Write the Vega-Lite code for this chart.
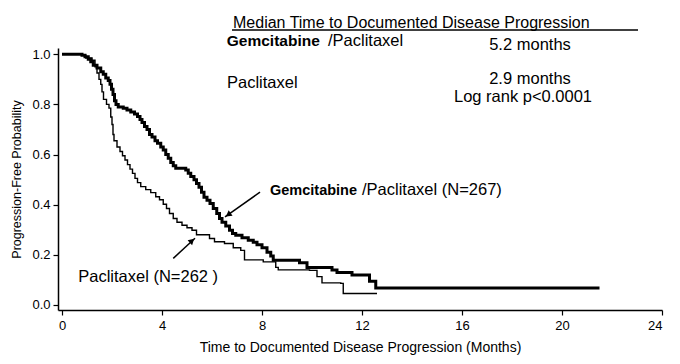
{
  "$schema": "https://vega.github.io/schema/vega-lite/v6.json",
  "width": 604,
  "height": 262,
  "autosize": "none",
  "padding": {"left": 58, "top": 48, "right": 18, "bottom": 54},
  "background": "white",
  "config": {
    "view": {"stroke": null},
    "font": "Liberation Sans",
    "axis": {"grid": false, "domainColor": "black", "tickColor": "black", "labelColor": "black", "titleColor": "black", "labelFont": "Liberation Sans", "titleFont": "Liberation Sans", "titleFontWeight": "normal", "domainWidth": 1.5, "tickWidth": 1.2}
  },
  "datasets": {
    "curves": [
      {"series": "Gemcitabine/Paclitaxel", "month": 0, "prob": 1.0},
      {"series": "Gemcitabine/Paclitaxel", "month": 0.8, "prob": 0.996},
      {"series": "Gemcitabine/Paclitaxel", "month": 0.92, "prob": 0.99},
      {"series": "Gemcitabine/Paclitaxel", "month": 1.05, "prob": 0.98},
      {"series": "Gemcitabine/Paclitaxel", "month": 1.15, "prob": 0.97},
      {"series": "Gemcitabine/Paclitaxel", "month": 1.25, "prob": 0.956},
      {"series": "Gemcitabine/Paclitaxel", "month": 1.4, "prob": 0.945},
      {"series": "Gemcitabine/Paclitaxel", "month": 1.55, "prob": 0.93},
      {"series": "Gemcitabine/Paclitaxel", "month": 1.65, "prob": 0.92},
      {"series": "Gemcitabine/Paclitaxel", "month": 1.75, "prob": 0.905},
      {"series": "Gemcitabine/Paclitaxel", "month": 1.85, "prob": 0.895},
      {"series": "Gemcitabine/Paclitaxel", "month": 1.92, "prob": 0.88},
      {"series": "Gemcitabine/Paclitaxel", "month": 1.98, "prob": 0.86},
      {"series": "Gemcitabine/Paclitaxel", "month": 2.04, "prob": 0.84},
      {"series": "Gemcitabine/Paclitaxel", "month": 2.1, "prob": 0.815},
      {"series": "Gemcitabine/Paclitaxel", "month": 2.16, "prob": 0.8},
      {"series": "Gemcitabine/Paclitaxel", "month": 2.25, "prob": 0.79},
      {"series": "Gemcitabine/Paclitaxel", "month": 2.45, "prob": 0.785},
      {"series": "Gemcitabine/Paclitaxel", "month": 2.6, "prob": 0.778},
      {"series": "Gemcitabine/Paclitaxel", "month": 2.75, "prob": 0.77},
      {"series": "Gemcitabine/Paclitaxel", "month": 2.9, "prob": 0.762},
      {"series": "Gemcitabine/Paclitaxel", "month": 3.02, "prob": 0.752},
      {"series": "Gemcitabine/Paclitaxel", "month": 3.12, "prob": 0.74},
      {"series": "Gemcitabine/Paclitaxel", "month": 3.2, "prob": 0.728},
      {"series": "Gemcitabine/Paclitaxel", "month": 3.3, "prob": 0.712},
      {"series": "Gemcitabine/Paclitaxel", "month": 3.4, "prob": 0.7},
      {"series": "Gemcitabine/Paclitaxel", "month": 3.5, "prob": 0.68},
      {"series": "Gemcitabine/Paclitaxel", "month": 3.6, "prob": 0.67},
      {"series": "Gemcitabine/Paclitaxel", "month": 3.72, "prob": 0.655},
      {"series": "Gemcitabine/Paclitaxel", "month": 3.82, "prob": 0.645},
      {"series": "Gemcitabine/Paclitaxel", "month": 3.95, "prob": 0.63},
      {"series": "Gemcitabine/Paclitaxel", "month": 4.05, "prob": 0.618},
      {"series": "Gemcitabine/Paclitaxel", "month": 4.15, "prob": 0.6},
      {"series": "Gemcitabine/Paclitaxel", "month": 4.25, "prob": 0.585},
      {"series": "Gemcitabine/Paclitaxel", "month": 4.35, "prob": 0.568},
      {"series": "Gemcitabine/Paclitaxel", "month": 4.45, "prob": 0.555},
      {"series": "Gemcitabine/Paclitaxel", "month": 4.55, "prob": 0.545},
      {"series": "Gemcitabine/Paclitaxel", "month": 4.95, "prob": 0.538},
      {"series": "Gemcitabine/Paclitaxel", "month": 5.05, "prob": 0.525},
      {"series": "Gemcitabine/Paclitaxel", "month": 5.15, "prob": 0.512},
      {"series": "Gemcitabine/Paclitaxel", "month": 5.28, "prob": 0.5},
      {"series": "Gemcitabine/Paclitaxel", "month": 5.38, "prob": 0.485},
      {"series": "Gemcitabine/Paclitaxel", "month": 5.48, "prob": 0.47},
      {"series": "Gemcitabine/Paclitaxel", "month": 5.58, "prob": 0.45},
      {"series": "Gemcitabine/Paclitaxel", "month": 5.68, "prob": 0.43},
      {"series": "Gemcitabine/Paclitaxel", "month": 5.8, "prob": 0.418},
      {"series": "Gemcitabine/Paclitaxel", "month": 5.92, "prob": 0.405},
      {"series": "Gemcitabine/Paclitaxel", "month": 6.05, "prob": 0.385},
      {"series": "Gemcitabine/Paclitaxel", "month": 6.19, "prob": 0.365},
      {"series": "Gemcitabine/Paclitaxel", "month": 6.3, "prob": 0.345},
      {"series": "Gemcitabine/Paclitaxel", "month": 6.4, "prob": 0.33},
      {"series": "Gemcitabine/Paclitaxel", "month": 6.55, "prob": 0.315},
      {"series": "Gemcitabine/Paclitaxel", "month": 6.7, "prob": 0.298},
      {"series": "Gemcitabine/Paclitaxel", "month": 6.82, "prob": 0.285},
      {"series": "Gemcitabine/Paclitaxel", "month": 6.95, "prob": 0.278},
      {"series": "Gemcitabine/Paclitaxel", "month": 7.2, "prob": 0.268},
      {"series": "Gemcitabine/Paclitaxel", "month": 7.45, "prob": 0.258},
      {"series": "Gemcitabine/Paclitaxel", "month": 7.65, "prob": 0.25},
      {"series": "Gemcitabine/Paclitaxel", "month": 7.8, "prob": 0.24},
      {"series": "Gemcitabine/Paclitaxel", "month": 8.0, "prob": 0.228},
      {"series": "Gemcitabine/Paclitaxel", "month": 8.2, "prob": 0.21},
      {"series": "Gemcitabine/Paclitaxel", "month": 8.35, "prob": 0.195},
      {"series": "Gemcitabine/Paclitaxel", "month": 8.45, "prob": 0.178},
      {"series": "Gemcitabine/Paclitaxel", "month": 9.5, "prob": 0.168},
      {"series": "Gemcitabine/Paclitaxel", "month": 9.8, "prob": 0.15},
      {"series": "Gemcitabine/Paclitaxel", "month": 10.8, "prob": 0.14},
      {"series": "Gemcitabine/Paclitaxel", "month": 11.0, "prob": 0.13},
      {"series": "Gemcitabine/Paclitaxel", "month": 11.6, "prob": 0.12},
      {"series": "Gemcitabine/Paclitaxel", "month": 12.3, "prob": 0.095},
      {"series": "Gemcitabine/Paclitaxel", "month": 12.55, "prob": 0.068},
      {"series": "Gemcitabine/Paclitaxel", "month": 21.5, "prob": 0.068},
      {"series": "Paclitaxel", "month": 0, "prob": 1.0},
      {"series": "Paclitaxel", "month": 0.8, "prob": 0.996},
      {"series": "Paclitaxel", "month": 0.95, "prob": 0.985},
      {"series": "Paclitaxel", "month": 1.2, "prob": 0.976},
      {"series": "Paclitaxel", "month": 1.32, "prob": 0.95},
      {"series": "Paclitaxel", "month": 1.4, "prob": 0.925},
      {"series": "Paclitaxel", "month": 1.48, "prob": 0.9},
      {"series": "Paclitaxel", "month": 1.55, "prob": 0.88},
      {"series": "Paclitaxel", "month": 1.6, "prob": 0.85},
      {"series": "Paclitaxel", "month": 1.66, "prob": 0.82},
      {"series": "Paclitaxel", "month": 1.78, "prob": 0.8},
      {"series": "Paclitaxel", "month": 1.88, "prob": 0.785},
      {"series": "Paclitaxel", "month": 1.95, "prob": 0.75},
      {"series": "Paclitaxel", "month": 2.0, "prob": 0.72},
      {"series": "Paclitaxel", "month": 2.04, "prob": 0.68},
      {"series": "Paclitaxel", "month": 2.08, "prob": 0.655},
      {"series": "Paclitaxel", "month": 2.2, "prob": 0.63},
      {"series": "Paclitaxel", "month": 2.32, "prob": 0.612},
      {"series": "Paclitaxel", "month": 2.42, "prob": 0.595},
      {"series": "Paclitaxel", "month": 2.52, "prob": 0.578},
      {"series": "Paclitaxel", "month": 2.62, "prob": 0.56},
      {"series": "Paclitaxel", "month": 2.72, "prob": 0.542},
      {"series": "Paclitaxel", "month": 2.82, "prob": 0.525},
      {"series": "Paclitaxel", "month": 2.92, "prob": 0.505},
      {"series": "Paclitaxel", "month": 3.02, "prob": 0.488},
      {"series": "Paclitaxel", "month": 3.15, "prob": 0.472},
      {"series": "Paclitaxel", "month": 3.35, "prob": 0.46},
      {"series": "Paclitaxel", "month": 3.55, "prob": 0.448},
      {"series": "Paclitaxel", "month": 3.75, "prob": 0.432},
      {"series": "Paclitaxel", "month": 3.9, "prob": 0.42},
      {"series": "Paclitaxel", "month": 4.05, "prob": 0.402},
      {"series": "Paclitaxel", "month": 4.18, "prob": 0.385},
      {"series": "Paclitaxel", "month": 4.3, "prob": 0.365},
      {"series": "Paclitaxel", "month": 4.45, "prob": 0.345},
      {"series": "Paclitaxel", "month": 4.6, "prob": 0.33},
      {"series": "Paclitaxel", "month": 4.8, "prob": 0.318},
      {"series": "Paclitaxel", "month": 5.0, "prob": 0.308},
      {"series": "Paclitaxel", "month": 5.2, "prob": 0.298},
      {"series": "Paclitaxel", "month": 5.38, "prob": 0.28},
      {"series": "Paclitaxel", "month": 5.9, "prob": 0.265},
      {"series": "Paclitaxel", "month": 6.1, "prob": 0.252},
      {"series": "Paclitaxel", "month": 6.5, "prob": 0.245},
      {"series": "Paclitaxel", "month": 6.85, "prob": 0.228},
      {"series": "Paclitaxel", "month": 7.15, "prob": 0.218},
      {"series": "Paclitaxel", "month": 7.3, "prob": 0.18},
      {"series": "Paclitaxel", "month": 8.05, "prob": 0.172},
      {"series": "Paclitaxel", "month": 8.55, "prob": 0.15},
      {"series": "Paclitaxel", "month": 8.65, "prob": 0.14},
      {"series": "Paclitaxel", "month": 9.9, "prob": 0.138},
      {"series": "Paclitaxel", "month": 10.2, "prob": 0.113},
      {"series": "Paclitaxel", "month": 10.4, "prob": 0.088},
      {"series": "Paclitaxel", "month": 11.15, "prob": 0.086},
      {"series": "Paclitaxel", "month": 11.25, "prob": 0.046},
      {"series": "Paclitaxel", "month": 12.6, "prob": 0.046}
    ],
    "header": [
      {"x": 6.84, "y": 1.106, "label": "Median Time to Documented Disease Progression"}
    ],
    "textLeft": [
      {"x": 10.64, "y": 1.033, "label": "/Paclitaxel"},
      {"x": 6.6, "y": 0.867, "label": "Paclitaxel"},
      {"x": 12.0, "y": 0.438, "label": "/Paclitaxel (N=267)"},
      {"x": 0.65, "y": 0.093, "label": "Paclitaxel (N=262 )"}
    ],
    "boldHeader": [
      {"x": 6.59, "y": 1.033, "label": "Gemcitabine"}
    ],
    "boldLabel": [
      {"x": 8.32, "y": 0.438, "label": "Gemcitabine"}
    ],
    "textCenter": [
      {"x": 18.72, "y": 1.016, "label": "5.2 months"},
      {"x": 18.72, "y": 0.882, "label": "2.9 months"},
      {"x": 18.44, "y": 0.808, "label": "Log rank p<0.0001"}
    ],
    "rules": [
      {"x": 6.8, "y": 1.097, "x2": 23.04, "y2": 1.097},
      {"x": 7.92, "y": 0.45, "x2": 6.52, "y2": 0.351},
      {"x": 4.45, "y": 0.186, "x2": 5.32, "y2": 0.266}
    ],
    "heads": [
      {"x": 6.65, "y": 0.36, "angle": 234},
      {"x": 5.2, "y": 0.256, "angle": 48}
    ]
  },
  "layer": [
    {
      "data": {"name": "curves"},
      "mark": {"type": "line", "interpolate": "step-after", "color": "black"},
      "encoding": {
        "x": {"field": "month", "type": "quantitative", "scale": {"domain": [-0.16, 24], "nice": false, "zero": false},
          "axis": {"values": [0, 4, 8, 12, 16, 20, 24], "title": "Time to Documented Disease Progression (Months)", "labelFontSize": 13, "titleFontSize": 14, "tickSize": 5, "labelPadding": 4, "titlePadding": 8}},
        "y": {"field": "prob", "type": "quantitative", "scale": {"domain": [-0.02, 1.025], "nice": false, "zero": false},
          "axis": {"values": [0, 0.1, 0.2, 0.3, 0.4, 0.5, 0.6, 0.7, 0.8, 0.9, 1.0], "labelExpr": "round(datum.value*10) % 2 == 0 ? format(datum.value, '.1f') : ''", "title": "Progression-Free Probability", "labelFontSize": 13, "titleFontSize": 12.5, "tickSize": 5, "labelPadding": 3, "titlePadding": 8}},
        "detail": {"field": "series", "type": "nominal"},
        "strokeWidth": {"field": "series", "type": "nominal", "scale": {"domain": ["Gemcitabine/Paclitaxel", "Paclitaxel"], "range": [3, 1.4]}, "legend": null}
      }
    },
    {
      "data": {"name": "rules"},
      "mark": {"type": "rule", "color": "black", "strokeWidth": 1.5},
      "encoding": {
        "x": {"field": "x", "type": "quantitative"},
        "y": {"field": "y", "type": "quantitative"},
        "x2": {"field": "x2"},
        "y2": {"field": "y2"}
      }
    },
    {
      "data": {"name": "heads"},
      "mark": {"type": "point", "shape": "triangle-up", "filled": true, "color": "black", "size": 45, "opacity": 1},
      "encoding": {
        "x": {"field": "x", "type": "quantitative"},
        "y": {"field": "y", "type": "quantitative"},
        "angle": {"field": "angle", "type": "quantitative", "scale": null}
      }
    },
    {
      "data": {"name": "header"},
      "mark": {"type": "text", "align": "left", "baseline": "alphabetic", "fontSize": 16, "color": "black"},
      "encoding": {
        "x": {"field": "x", "type": "quantitative"},
        "y": {"field": "y", "type": "quantitative"},
        "text": {"field": "label"}
      }
    },
    {
      "data": {"name": "textLeft"},
      "mark": {"type": "text", "align": "left", "baseline": "alphabetic", "fontSize": 16.5, "color": "black"},
      "encoding": {
        "x": {"field": "x", "type": "quantitative"},
        "y": {"field": "y", "type": "quantitative"},
        "text": {"field": "label"}
      }
    },
    {
      "data": {"name": "boldHeader"},
      "mark": {"type": "text", "align": "left", "baseline": "alphabetic", "fontSize": 15.5, "fontWeight": "bold", "color": "black"},
      "encoding": {
        "x": {"field": "x", "type": "quantitative"},
        "y": {"field": "y", "type": "quantitative"},
        "text": {"field": "label"}
      }
    },
    {
      "data": {"name": "boldLabel"},
      "mark": {"type": "text", "align": "left", "baseline": "alphabetic", "fontSize": 14.5, "fontWeight": "bold", "color": "black"},
      "encoding": {
        "x": {"field": "x", "type": "quantitative"},
        "y": {"field": "y", "type": "quantitative"},
        "text": {"field": "label"}
      }
    },
    {
      "data": {"name": "textCenter"},
      "mark": {"type": "text", "align": "center", "baseline": "alphabetic", "fontSize": 16.5, "color": "black"},
      "encoding": {
        "x": {"field": "x", "type": "quantitative"},
        "y": {"field": "y", "type": "quantitative"},
        "text": {"field": "label"}
      }
    }
  ]
}
